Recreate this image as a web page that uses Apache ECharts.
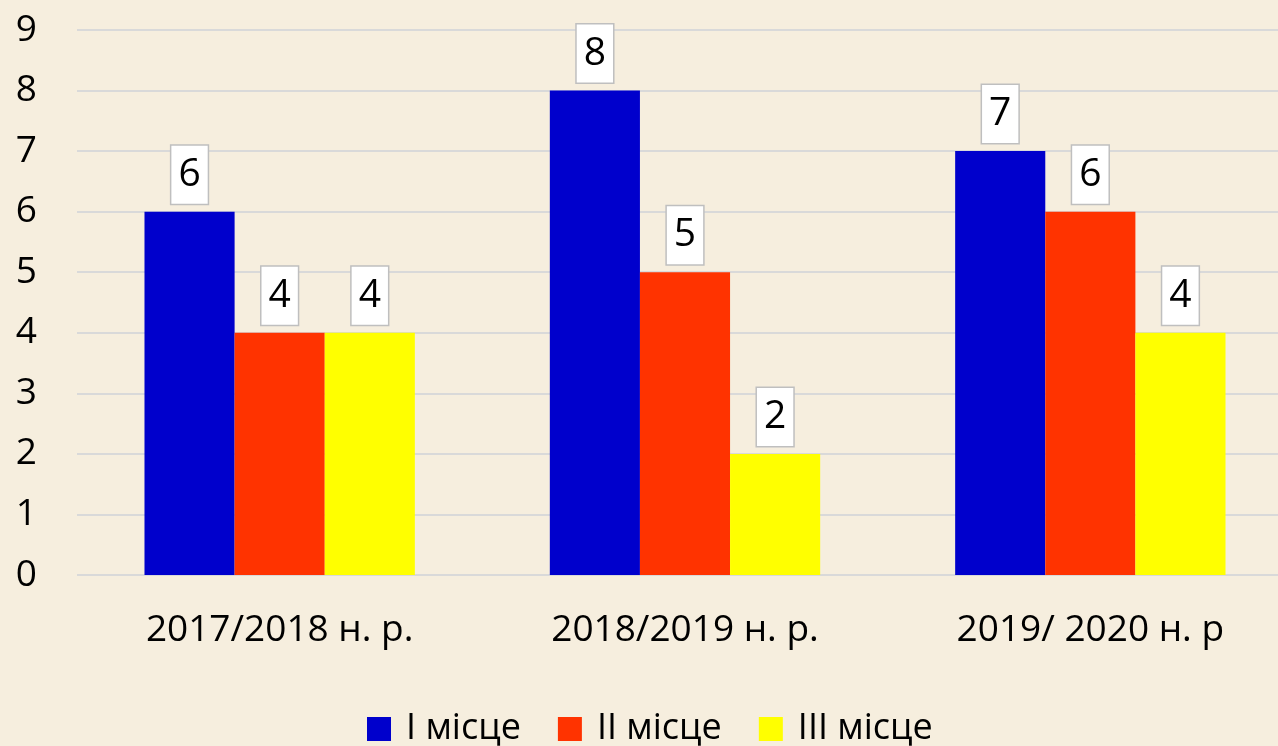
<!DOCTYPE html>
<html>
<head>
<meta charset="utf-8">
<script src="https://cdn.jsdelivr.net/npm/echarts@6/dist/echarts.min.js"></script>
<style>
  html, body { margin: 0; padding: 0; background: #f6eede; }
  #chart { width: 1278px; height: 746px; }
</style>
</head>
<body>
<div id="chart"></div>
<script>
  // навчальні роки
  var categories = ['2017/2018 н. р.', '2018/2019 н. р.', '2019/ 2020 н. р']
  var seriesNames = ['I місце', 'II місце', 'III місце']
  var firstPlace = [6, 8, 7]
  var secondPlace = [4, 5, 6]
  var thirdPlace = [4, 2, 4]
  var yTicks = [0, 1, 2, 3, 4, 5, 6, 7, 8, 9]

  var colors = ['#0000cc', '#ff3300', '#ffff00']
  var font = '"Open Sans", sans-serif'

  var chart = echarts.init(document.getElementById('chart'))

  function makeSeries (name, data, color) {
    return {
      name: name,
      type: 'bar',
      data: data,
      barGap: '0%',
      barCategoryGap: '33.3%',
      itemStyle: { color: color },
      label: {
        show: true,
        position: 'top',
        distance: 8,
        color: '#000',
        fontFamily: font,
        fontSize: 39,
        lineHeight: 40,
        backgroundColor: '#fff',
        borderColor: '#bfbfbf',
        borderWidth: 1.5,
        padding: [9, 7, 9, 7]
      }
    }
  }

  chart.setOption({
    backgroundColor: '#f6eede',
    animation: false,
    textStyle: { fontFamily: font },
    // сітка трохи виходить за правий край, як в оригіналі
    grid: { left: 77, width: 1216, top: 30, bottom: 171, outerBoundsMode: 'none' },
    legend: {
      top: 702,
      left: 362,
      itemWidth: 24,
      itemHeight: 24,
      itemGap: 37,
      icon: 'rect',
      textStyle: { fontFamily: font, fontSize: 36, lineHeight: 44, color: '#000', padding: [0, 0, 0, 10] },
      data: seriesNames
    },
    xAxis: {
      type: 'category',
      data: categories,
      axisLine: { show: false },
      axisTick: { show: false },
      axisLabel: { color: '#000', fontSize: 37, fontFamily: font, margin: 37 }
    },
    yAxis: {
      type: 'value',
      min: yTicks[0],
      max: yTicks[yTicks.length - 1],
      interval: 1,
      axisLine: { show: false },
      axisTick: { show: false },
      axisLabel: { color: '#000', fontSize: 37, fontFamily: font, margin: 40 },
      splitLine: { lineStyle: { color: '#d9d9d9', width: 2 } }
    },
    series: [
      makeSeries(seriesNames[0], firstPlace, colors[0]),
      makeSeries(seriesNames[1], secondPlace, colors[1]),
      makeSeries(seriesNames[2], thirdPlace, colors[2])
    ]
  })
</script>
</body>
</html>
